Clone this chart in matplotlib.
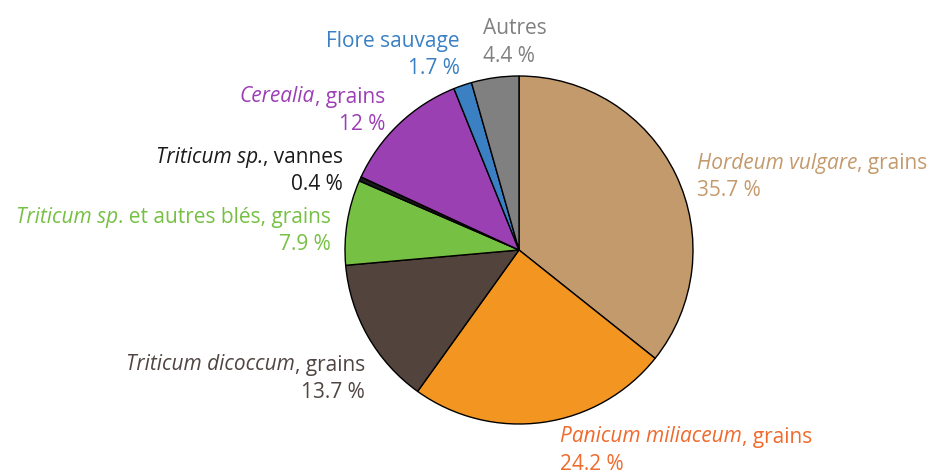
import matplotlib.pyplot as plt

plt.rcParams['font.family'] = ['Open Sans', 'DejaVu Sans']

# Parts of the plant remains, clockwise from the top.
# Each label is a list of (text, italic) pieces.
labels = [[('Hordeum vulgare', True), (', grains', False)],
          [('Panicum miliaceum', True), (', grains', False)],
          [('Triticum dicoccum', True), (', grains', False)],
          [('Triticum sp', True), ('. et autres blés, grains', False)],
          [('Triticum sp.', True), (', vannes', False)],
          [('Cerealia', True), (', grains', False)],
          [('Flore sauvage', False)],
          [('Autres', False)]]
values = [35.7, 24.2, 13.7, 7.9, 0.4, 12, 1.7, 4.4]
value_text = ['35.7 %', '24.2 %', '13.7 %', '7.9 %', '0.4 %', '12 %', '1.7 %', '4.4 %']
colors = ['#C29A6C', '#F39621', '#52433D', '#76C043', '#1A1A1A', '#9B40B3', '#3A80C2', '#808080']
text_colors = ['#C49A6C', '#EF6A2C', '#4F4542', '#76C043', '#1A1A1A', '#9C3FB5', '#3A80C3', '#808080']

# label anchor (pixels from top-left) and horizontal alignment
label_pos = [(697, 164, 'left'), (560, 437, 'left'), (365, 365, 'right'),
             (331, 217, 'right'), (343, 157, 'right'), (385, 97, 'right'),
             (460, 42, 'right'), (483, 29, 'left')]

W, H = 930, 476
FS = 15
fig = plt.figure(figsize=(W / 100, H / 100), dpi=100)
ax = fig.add_axes([0, 0, 1, 1])
ax.axis('off')

ax.pie(values, colors=colors, startangle=90, counterclock=False,
       center=(519, H - 250), radius=174,
       wedgeprops=dict(edgecolor='black', linewidth=1))
ax.set_xlim(0, W)
ax.set_ylim(0, H)
ax.set_aspect('equal')


def draw_label(parts, x, y, ha, color):
    style = lambda it: 'italic' if it else 'normal'
    if ha == 'left':
        prev = ax.text(x, y, parts[0][0], style=style(parts[0][1]), color=color,
                       ha='left', va='center', fontsize=FS)
        for txt, it in parts[1:]:
            prev = ax.annotate(txt, xy=(1, 0), xycoords=prev, ha='left', va='bottom',
                               style=style(it), color=color, fontsize=FS)
    else:
        nxt = ax.text(x, y, parts[-1][0], style=style(parts[-1][1]), color=color,
                      ha='right', va='center', fontsize=FS)
        for txt, it in reversed(parts[:-1]):
            nxt = ax.annotate(txt, xy=(0, 0), xycoords=nxt, ha='right', va='bottom',
                              style=style(it), color=color, fontsize=FS)


for parts, val, tc, (x, y, ha) in zip(labels, value_text, text_colors, label_pos):
    draw_label(parts, x, H - y, ha, tc)
    ax.text(x, H - y - 27, val, color=tc, ha=ha, va='center', fontsize=FS)

fig.savefig('out.png', dpi=100)
